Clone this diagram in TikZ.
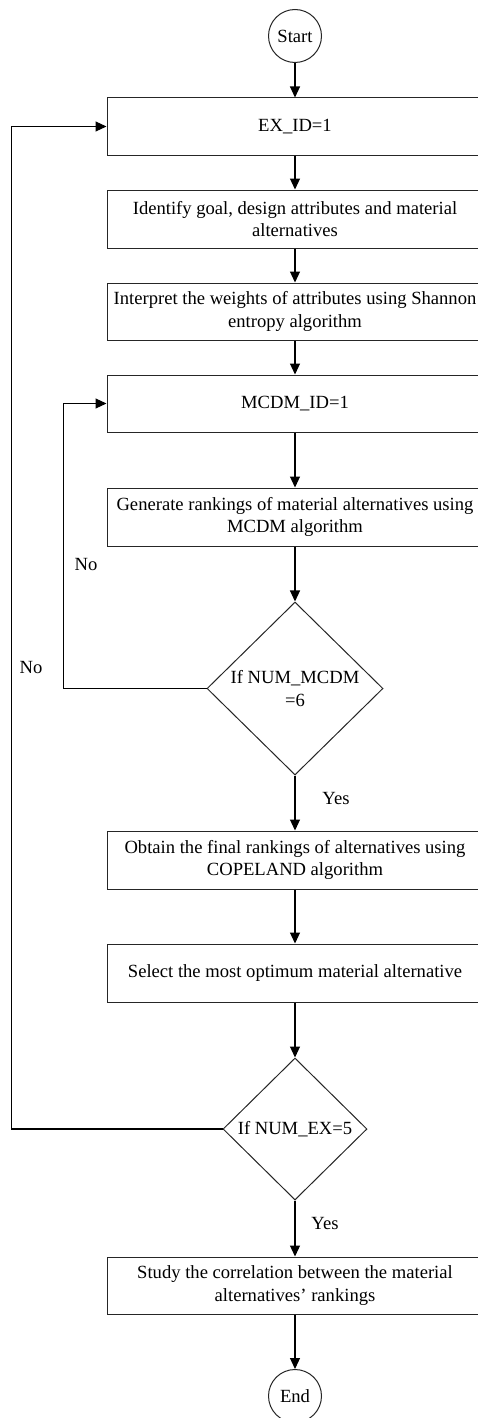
\documentclass[tikz,border=0pt]{standalone}
\usepackage{fontspec}
\setmainfont{Liberation Serif}
\usetikzlibrary{shapes.geometric,arrows.meta}

\begin{document}
\begin{tikzpicture}[x=1pt,y=-1pt,
  font=\fontsize{18.6}{22.6}\selectfont,
  box/.style={draw=black!85, line width=1pt, minimum width=376pt, minimum height=57pt, inner sep=0pt, align=center},
  term/.style={draw=black!85, line width=1pt, circle, minimum size=53pt, inner sep=0pt},
  cond/.style={draw=black!85, line width=1pt, diamond, inner sep=0pt, align=center},
  arr/.style={-{Triangle[length=11pt,width=10pt]}, line width=1.1pt}]
\useasboundingbox (0,0) rectangle (478,1418);
% Ablauf der Auswahl
\node[term] (start) at (295,36) {Start};
\node[box] (ex) at (295,126.5) {EX\_ID=1};
\node[box, minimum height=58pt] (ident) at (295,219) {Identify goal, design attributes and material\\alternatives};
\node[box] (interp) at (295,311.5) {Interpret the weights of attributes using Shannon\\entropy algorithm};
\node[box] (mcdm) at (295,403.5) {MCDM\_ID=1};
\node[box, minimum height=58pt] (gen) at (295,517) {Generate rankings of material alternatives using\\MCDM algorithm};
\node[cond, minimum width=176pt, minimum height=173pt] (d1) at (295,688.5) {If NUM\_MCDM\\=6};
\node[box, minimum height=58pt] (obtain) at (295,860) {Obtain the final rankings of alternatives using\\COPELAND algorithm};
\node[box, minimum height=58pt] (select) at (295,973) {Select the most optimum material alternative};
\node[cond, minimum width=144pt, minimum height=142pt] (d2) at (295,1129) {If NUM\_EX=5};
\node[box] (study) at (295,1285.5) {Study the correlation between the material\\alternatives’ rankings};
\node[term] (stop) at (295,1396) {End};

% Pfeile
\draw[arr] (start) -- (ex);
\draw[arr] (ex) -- (ident);
\draw[arr] (ident) -- (interp);
\draw[arr] (interp) -- (mcdm);
\draw[arr] (mcdm) -- (gen);
\draw[arr] (gen) -- (d1);
\draw[arr] (d1) -- (obtain);
\draw[arr] (obtain) -- (select);
\draw[arr] (select) -- (d2);
\draw[arr] (d2) -- (study);
\draw[arr] (study) -- (stop);
\draw[arr] (d1.west) -- ++(-143,0) |- (mcdm.west);
\draw[arr] (d2.west) -- ++(-211,0) |- (ex.west);

\node (no1) at (86,564) {No};
\node (no2) at (31,667) {No};
\node (yes1) at (336,798) {Yes};
\node (yes2) at (325,1223) {Yes};
\end{tikzpicture}
\end{document}
